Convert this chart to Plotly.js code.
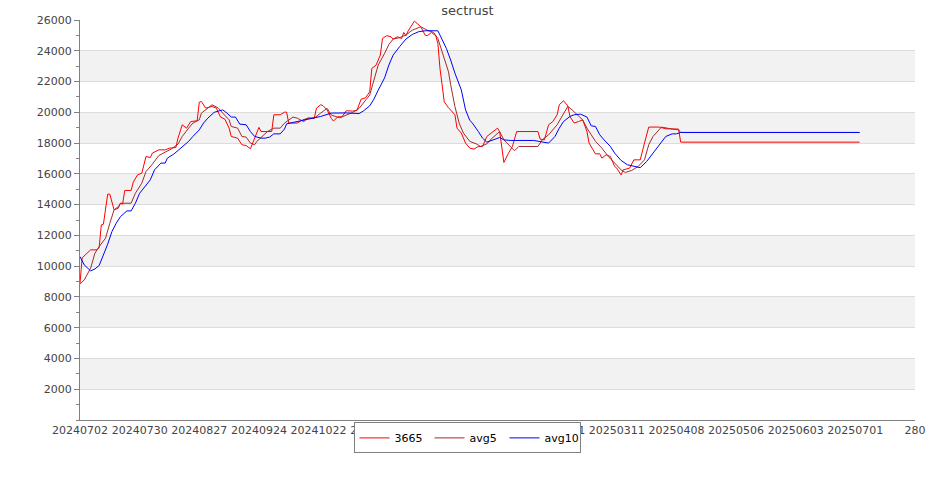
<!DOCTYPE html>
<html>
<head>
<meta charset="utf-8">
<script src="https://cdn.plot.ly/plotly-3.0.1.min.js"></script>
<style>html,body{margin:0;padding:0;background:#fff;}#chart{width:935px;height:500px;}</style>
</head>
<body>
<div id="chart"></div>
<script>
// day offsets from 20240702
const priceDays = [0,1,5,8,9,10,11,13,14,16,18,19,20,21,24,25,27,29,31,33,34,37,40,42,45,46,48,50,52,55,56,57,59,62,64,66,68,70,71,74,76,78,80,82,84,85,90,91,94,96,97,98,102,104,105,107,110,111,113,114,116,118,119,121,123,125,128,130,132,134,136,137,139,141,142,144,146,147,148,149,151,152,153,154,157,159,160,162,163,165,167,168,169,171,173,176,177,179,181,183,185,187,189,191,194,196,197,198,199,201,203,205,215,216,218,220,222,224,225,227,229,230,232,234,236,238,239,242,244,245,247,249,251,252,254,255,258,260,263,265,267,272,275,281,282,366];
const price = [8890,10540,11060,11060,11210,12680,12730,14680,14680,13660,13770,14090,14030,14920,14920,15460,15930,16040,17130,17060,17350,17560,17560,17670,17710,18320,19190,18970,19400,19450,20660,20700,20270,20380,20270,19690,19560,18970,18430,18320,17890,17840,17630,18320,19020,18750,18750,19840,19840,20010,20010,19300,19300,19470,19400,19620,19620,20270,20490,20440,20160,19600,19430,19710,19710,20100,20080,20120,20860,20940,21330,22850,23070,23720,24800,24980,24910,24760,24850,24910,24800,25190,24980,25280,25930,25670,25560,25020,24980,25190,24980,24480,22850,20680,20300,19840,18970,18650,18000,17670,17610,17780,17780,18430,18750,18970,18750,17780,16740,17300,17780,18750,18750,18260,18210,19190,19400,19840,20490,20750,20420,19730,19300,19400,19510,18750,18000,17300,17300,17020,17240,17130,16480,16370,15930,16260,16370,16910,16910,18000,19040,19040,18930,18910,18060,18060];

const avg5Days = [0,2,5,7,9,12,14,16,18,19,24,26,29,31,34,37,40,43,46,48,51,53,56,57,62,65,67,70,71,74,76,78,80,82,83,86,88,91,94,96,100,102,104,107,110,113,116,118,122,125,128,131,133,136,138,140,143,145,147,150,153,156,160,163,166,168,169,171,173,174,176,178,180,183,186,188,191,193,197,199,202,204,206,215,217,220,224,227,229,231,234,236,238,242,245,248,251,254,256,259,262,265,267,269,273,275,278,281,282,366];
const avg5 = [8830,9110,9870,10840,11270,11820,12790,13660,13870,14090,14090,14740,15390,16150,16630,17190,17410,17630,17930,18430,18970,19300,19510,19950,20490,20270,19950,19510,19080,18970,18430,18390,18000,17890,18110,18470,18750,18970,18970,19300,19690,19620,19470,19620,19620,19950,20260,19820,19640,19820,19990,20250,20570,21120,22090,23070,23830,24410,24760,24850,25020,25340,25560,25340,25190,24800,24370,23500,22630,21800,20380,19300,18650,18110,17950,17780,17950,18260,18750,18210,17780,17500,17780,17780,18210,18540,19190,19950,20380,20160,19730,19510,18970,18110,17670,17130,16700,16260,16090,16220,16480,16910,17890,18430,19040,18970,18910,18860,18690,18690];

const avg10Days = [0,2,5,7,9,11,13,15,17,19,22,24,26,28,30,33,35,38,40,41,44,46,48,51,53,56,58,60,63,67,69,71,73,75,78,80,82,85,87,89,91,94,96,97,100,104,107,110,113,118,125,131,133,136,138,140,143,145,147,150,153,156,159,162,168,169,172,174,176,179,181,183,184,187,189,191,194,197,199,202,213,216,220,223,225,227,230,232,235,238,240,242,244,246,249,251,254,257,260,263,266,269,272,275,278,280,282,366];
const avg10 = [10620,10080,9690,9820,10040,10730,11430,12250,12790,13220,13590,13590,14090,14740,15070,15610,16260,16700,16700,17020,17280,17500,17780,18110,18430,18860,19300,19620,20000,20160,19950,19690,19690,19230,19190,18750,18430,18320,18320,18390,18600,18600,18910,19250,19340,19470,19560,19620,19730,19950,19960,19920,20080,20420,20860,21440,22240,23070,23720,24260,24760,25060,25240,25300,25300,25020,24150,23400,22550,21460,20160,19470,19340,18750,18320,18060,18210,18360,18210,18170,18170,18110,18000,18430,18970,19400,19730,19840,19880,19690,19120,19080,18540,18210,17780,17350,16870,16590,16480,16400,16800,17350,17890,18430,18600,18600,18690,18690];

const seriesNames = ['3665','avg5','avg10'];
const xTickVals = [0,28,56,84,112,140,168,196,224,252,280,308,336,364,392];
const xTickText = ['20240702','20240730','20240827','20240924','20241022','20241119','20241217','20250114','20250211','20250311','20250408','20250506','20250603','20250701','280'];
const yTickVals = [2000,4000,6000,8000,10000,12000,14000,16000,18000,20000,22000,24000,26000];

const traces = [
  {x: priceDays, y: price, name: seriesNames[0], mode:'lines', line:{color:'#ff0000', width:1}},
  {x: avg5Days, y: avg5, name: seriesNames[1], mode:'lines', line:{color:'#a52a2a', width:1}},
  {x: avg10Days, y: avg10, name: seriesNames[2], mode:'lines', line:{color:'#0000ff', width:1}}
];

const shapes = [];
const allY = [0].concat(yTickVals);
for (let i = 1; i < allY.length - 1; i += 2) {
  shapes.push({type:'rect', xref:'paper', x0:0, x1:1, yref:'y', y0:allY[i], y1:allY[i+1],
    fillcolor:'#f2f2f2', line:{width:0}, layer:'below'});
}

const layout = {
  width: 935, height: 500,
  margin: {l:80, r:20, t:20, b:80},
  paper_bgcolor:'#ffffff', plot_bgcolor:'#ffffff',
  font: {family:'DejaVu Sans', size:11, color:'#444444'},
  title: {text:'sectrust', font:{family:'DejaVu Sans', size:13, color:'#444444'},
    x:0.5, xref:'container', y:0.98, yref:'container', yanchor:'middle'},
  showlegend: true,
  legend: {orientation:'h', x:0.4635, xanchor:'center', y:-0.006, yanchor:'top',
    bgcolor:'#ffffff', bordercolor:'#808080', borderwidth:1,
    font:{family:'DejaVu Sans', size:11, color:'#000000'}, itemwidth:30, tracegroupgap:0,
    entrywidth:30, entrywidthmode:'pixels'},
  xaxis: {range:[0,392], tickmode:'array', tickvals:xTickVals, ticktext:xTickText,
    showgrid:false, zeroline:false, showline:true, linecolor:'#808080', linewidth:1,
    ticks:'', tickfont:{family:'DejaVu Sans', size:11, color:'#444444'}, fixedrange:true},
  yaxis: {range:[0,26000], tickmode:'array', tickvals:yTickVals, tickformat:'d',
    showgrid:true, gridcolor:'#dcdcdc', gridwidth:1, zeroline:false,
    showline:true, linecolor:'#808080', linewidth:1,
    ticks:'outside', ticklen:5, tickcolor:'#808080',
    minor:{tickmode:'linear', tick0:0, dtick:1000, ticks:'outside', ticklen:3, tickcolor:'#808080', showgrid:false},
    tickfont:{family:'DejaVu Sans', size:11, color:'#444444'}, fixedrange:true},
  shapes: shapes
};

Plotly.newPlot('chart', traces, layout, {displayModeBar:false, staticPlot:true});
</script>
</body>
</html>
